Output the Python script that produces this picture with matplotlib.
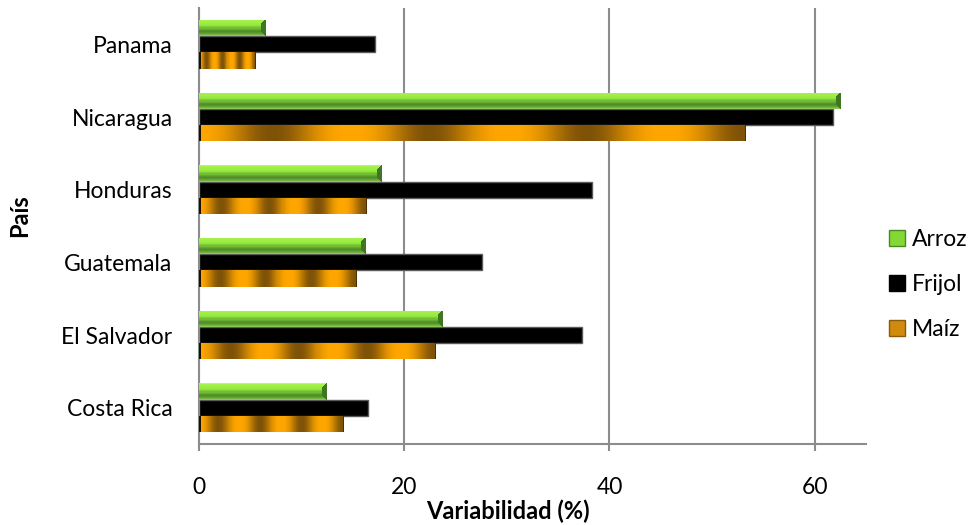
import numpy as np
import matplotlib
matplotlib.use("Agg")
import matplotlib.pyplot as plt
from matplotlib.patches import Patch
from matplotlib.colors import to_rgb

plt.rcParams['font.family'] = ['Lato', 'DejaVu Sans']

# Data: variability (%) of staple crops by country
paises = ['Costa Rica', 'El Salvador', 'Guatemala', 'Honduras', 'Nicaragua', 'Panama']
arroz = [12.4, 23.7, 16.2, 17.8, 62.5, 6.5]
frijol = [16.5, 37.3, 27.6, 38.3, 61.8, 17.2]
maiz = [14.1, 23.0, 15.3, 16.3, 53.3, 5.5]
series_names = ['Arroz', 'Frijol', 'Maíz']
x_ticks = [0, 20, 40, 60]
x_max = 65

W, H = 971, 525
fig = plt.figure(figsize=(W / 100, H / 100), dpi=100)
ax = fig.add_axes([199 / W, 1 - 444 / H, (866 - 199) / W, (444 - 8) / H])

FS = 16.5
bar_h = 0.224
pos = np.arange(len(paises))
ax.set_xlim(0, x_max)
ax.set_ylim(-0.5, len(paises) - 0.5)

grey = '#8c8c8c'
ax.set_axisbelow(True)
ax.xaxis.grid(True, color=grey, linewidth=1.5)
ax.set_xticks(x_ticks)
ax.set_yticks(pos)
ax.set_yticklabels(paises)
ax.tick_params(axis='x', length=5, width=1.5, color=grey, pad=19, labelsize=FS)
ax.tick_params(axis='y', length=0, pad=19, labelsize=FS)
for s in ('top', 'right'):
    ax.spines[s].set_visible(False)
for s in ('left', 'bottom'):
    ax.spines[s].set_color(grey)
    ax.spines[s].set_linewidth(1.5)

bars_a = ax.barh(pos + bar_h, arroz, height=bar_h, color='#8ee03a', linewidth=0, zorder=2)
bars_f = ax.barh(pos, frijol, height=bar_h, color='black', edgecolor='#5a5a5a', linewidth=1, zorder=2)
bars_m = ax.barh(pos - bar_h, maiz, height=bar_h, color='#e09a08', linewidth=0, zorder=2)


def px_size(w, h):
    p0 = ax.transData.transform((0, 0))
    p1 = ax.transData.transform((w, h))
    return abs(p1[0] - p0[0]), abs(p1[1] - p0[1])


def profile(stops, n):
    t = (np.arange(n) + 0.5) / n
    xs = [s[0] for s in stops]
    cols = np.array([to_rgb(s[1]) for s in stops])
    return np.stack([np.interp(t, xs, cols[:, k]) for k in range(3)], axis=1)


green_stops = [(0.0, '#c8f59e'), (0.08, '#a6f24c'), (0.38, '#96ea3e'),
               (0.56, '#6cb432'), (0.70, '#4e8a28'), (0.84, '#62a232'), (1.0, '#92d25a')]


def shade_green(bar, val, yc):
    wpx, hpx = px_size(val, bar_h)
    nx, ny = max(int(round(wpx)), 2), max(int(round(hpx)), 2)
    img = np.tile(profile(green_stops, ny)[:, None, :], (1, nx, 1))
    jj, ii = np.meshgrid(np.arange(nx), np.arange(ny))
    dx = nx - jj - 0.5
    dt = ii + 0.5
    db = ny - ii - 0.5
    face = (dx < 5) & (dx <= np.minimum(dt, db))
    img[face] = to_rgb('#3f7622')
    im = ax.imshow(img, extent=(0, val, yc - bar_h / 2, yc + bar_h / 2),
                   aspect='auto', origin='upper', interpolation='nearest', zorder=3)
    im.set_clip_path(bar)


def shade_orange(bar, val, yc):
    wpx, hpx = px_size(val, bar_h)
    nx, ny = max(int(round(wpx)), 2), max(int(round(hpx)), 2)
    t = (np.arange(nx) + 0.5) / nx
    d = 0.5 * (1 + np.cos(2 * np.pi * (t - 0.135) / 0.287))
    d = d ** 1.4
    bright = np.array(to_rgb('#ffa600'))
    dark = np.array(to_rgb('#7e5208'))
    row = bright[None, :] * (1 - d[:, None]) + dark[None, :] * d[:, None]
    img = np.tile(row[None, :, :], (ny, 1, 1))
    img[:, :2] = to_rgb('#1a1200')
    img[:, -1] = to_rgb('#4a3000')
    im = ax.imshow(img, extent=(0, val, yc - bar_h / 2, yc + bar_h / 2),
                   aspect='auto', origin='upper', interpolation='nearest', zorder=3)
    im.set_clip_path(bar)


for bar, val, yc in zip(bars_a, arroz, pos + bar_h):
    shade_green(bar, val, yc)
for bar, val, yc in zip(bars_m, maiz, pos - bar_h):
    shade_orange(bar, val, yc)

ax.set_xlim(0, x_max)
ax.set_ylim(-0.5, len(paises) - 0.5)

fig.text(508 / W, 1 - 511 / H, 'Variabilidad (%)', ha='center', va='center',
         fontsize=17, fontweight='bold')
fig.text(20 / W, 1 - 216 / H, 'País', ha='center', va='center', rotation=90,
         fontsize=17, fontweight='bold')

handles = [Patch(facecolor='#84d836', edgecolor='#4a8a26', linewidth=1),
           Patch(facecolor='black', edgecolor='black'),
           Patch(facecolor='#d08a0c', edgecolor='#8a5a08', linewidth=1)]
fig.legend(handles, series_names, loc='center left',
           bbox_to_anchor=(889 / W, 1 - 284.5 / H), bbox_transform=fig.transFigure,
           frameon=False, borderpad=0, borderaxespad=0, handlelength=0.7,
           handleheight=0.7, handletextpad=0.3, labelspacing=1.05, fontsize=FS)

fig.savefig('out.png', dpi=100)
